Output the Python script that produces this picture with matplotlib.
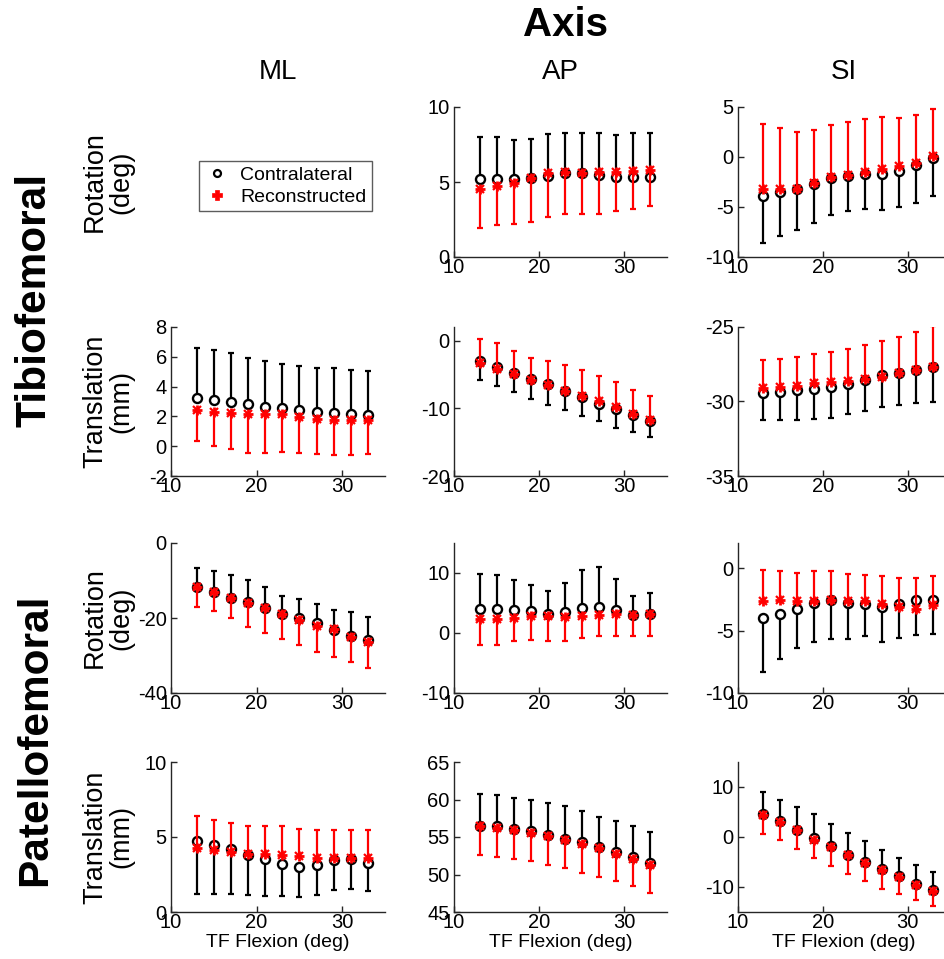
import matplotlib
matplotlib.use("Agg")
import matplotlib.pyplot as plt
from matplotlib.lines import Line2D

plt.rcParams['font.family'] = ['Liberation Sans', 'DejaVu Sans']
plt.rcParams['axes.unicode_minus'] = False

# ---------------- data ----------------
flexion = [13, 15, 17, 19, 21, 23, 25, 27, 29, 31, 33]

# Tibiofemoral rotation AP
tf_rot_ap_con = [5.22, 5.22, 5.18, 5.27, 5.40, 5.62, 5.62, 5.44, 5.33, 5.33, 5.33]
tf_rot_ap_con_end = [8.00, 8.00, 7.78, 7.89, 8.20, 8.27, 8.27, 8.24, 8.16, 8.29, 8.24]
tf_rot_ap_rec = [4.51, 4.71, 4.93, 5.29, 5.60, 5.69, 5.60, 5.67, 5.67, 5.73, 5.78]
tf_rot_ap_rec_end = [1.93, 2.11, 2.22, 2.33, 2.67, 2.84, 2.84, 2.89, 3.07, 3.22, 3.38]

# Tibiofemoral rotation SI
tf_rot_si_con = [-3.93, -3.53, -3.19, -2.65, -2.11, -1.91, -1.74, -1.74, -1.44, -0.83, -0.06]
tf_rot_si_con_end = [-8.55, -7.88, -7.30, -6.56, -5.82, -5.35, -5.18, -5.25, -5.04, -4.60, -3.87]
tf_rot_si_rec = [-3.19, -3.19, -3.16, -2.58, -2.04, -1.84, -1.50, -1.17, -0.90, -0.56, 0.10]
tf_rot_si_rec_end = [3.28, 2.88, 2.47, 2.74, 3.18, 3.52, 3.79, 3.96, 3.92, 4.16, 4.76]

# Tibiofemoral translation ML
tf_tr_ml_con = [3.26, 3.12, 2.97, 2.85, 2.63, 2.56, 2.41, 2.27, 2.23, 2.14, 2.07]
tf_tr_ml_con_end = [6.59, 6.48, 6.26, 5.94, 5.72, 5.50, 5.36, 5.27, 5.25, 5.14, 5.02]
tf_tr_ml_rec = [2.45, 2.30, 2.23, 2.18, 2.18, 2.14, 1.96, 1.85, 1.78, 1.74, 1.78]
tf_tr_ml_rec_end = [0.33, 0.01, -0.21, -0.43, -0.43, -0.41, -0.46, -0.55, -0.61, -0.61, -0.55]

# Tibiofemoral translation AP
tf_tr_ap_con = [-3.04, -3.92, -4.75, -5.64, -6.42, -7.45, -8.33, -9.31, -10.14, -11.03, -11.91]
tf_tr_ap_con_end = [-5.88, -6.76, -7.64, -8.58, -9.46, -10.19, -11.17, -11.91, -12.84, -13.48, -14.21]
tf_tr_ap_rec = [-3.33, -4.17, -5.00, -5.88, -6.57, -7.45, -8.23, -8.97, -9.80, -10.78, -11.66]
tf_tr_ap_rec_end = [0.25, -0.39, -1.47, -2.55, -3.09, -3.58, -4.41, -5.29, -6.17, -7.25, -8.23]

# Tibiofemoral translation SI
tf_tr_si_con = [-29.46, -29.37, -29.26, -29.15, -29.04, -28.82, -28.53, -28.21, -28.06, -27.88, -27.68]
tf_tr_si_con_end = [-31.27, -31.27, -31.27, -31.16, -31.09, -30.87, -30.62, -30.40, -30.25, -30.09, -30.02]
tf_tr_si_rec = [-29.08, -29.04, -28.93, -28.73, -28.68, -28.62, -28.46, -28.35, -28.06, -27.86, -27.68]
tf_tr_si_rec_end = [-27.19, -27.14, -27.03, -26.81, -26.65, -26.49, -26.23, -25.96, -25.67, -25.31, -24.96]

# Patellofemoral rotation ML
pf_rot_ml_con = [-11.86, -13.19, -14.60, -15.66, -17.43, -19.03, -20.09, -21.24, -23.19, -24.78, -25.93]
pf_rot_ml_con_end = [-6.64, -7.43, -8.41, -9.91, -11.68, -14.07, -15.05, -16.19, -17.88, -18.50, -19.65]
pf_rot_ml_rec = [-11.86, -13.01, -14.60, -16.11, -17.43, -19.03, -20.53, -22.04, -23.01, -24.96, -26.28]
pf_rot_ml_rec_end = [-16.99, -18.05, -19.91, -22.48, -24.07, -25.67, -27.17, -28.94, -30.53, -31.86, -33.28]

# Patellofemoral rotation AP
pf_rot_ap_con = [3.98, 3.98, 3.87, 3.59, 3.20, 3.48, 4.14, 4.31, 3.76, 3.04, 3.20]
pf_rot_ap_con_end = [9.83, 9.67, 8.90, 8.01, 6.96, 8.40, 10.50, 10.94, 8.99, 6.24, 6.69]
pf_rot_ap_rec = [2.38, 2.38, 2.54, 2.76, 2.76, 2.65, 2.82, 2.93, 3.09, 2.93, 3.09]
pf_rot_ap_rec_end = [-2.04, -2.04, -1.38, -1.22, -1.38, -1.38, -0.83, -0.55, -0.44, -0.55, -0.55]

# Patellofemoral rotation SI
pf_rot_si_con = [-4.00, -3.65, -3.31, -2.80, -2.59, -2.80, -2.86, -3.12, -2.86, -2.57, -2.54]
pf_rot_si_con_end = [-8.28, -7.28, -6.43, -5.90, -5.69, -5.64, -5.45, -5.90, -5.58, -5.37, -5.24]
pf_rot_si_rec = [-2.65, -2.57, -2.65, -2.65, -2.54, -2.65, -2.67, -2.91, -3.12, -3.25, -2.99]
pf_rot_si_rec_end = [-0.13, -0.21, -0.40, -0.26, -0.21, -0.48, -0.53, -0.66, -0.82, -0.82, -0.61]

# Patellofemoral translation ML
pf_tr_ml_con = [4.71, 4.44, 4.18, 3.82, 3.56, 3.18, 3.00, 3.16, 3.44, 3.51, 3.29]
pf_tr_ml_con_end = [1.18, 1.18, 1.18, 1.11, 1.07, 1.07, 1.00, 1.11, 1.44, 1.56, 1.40]
pf_tr_ml_rec = [4.29, 4.11, 4.00, 3.89, 3.84, 3.82, 3.71, 3.62, 3.62, 3.62, 3.62]
pf_tr_ml_rec_end = [6.38, 6.11, 5.96, 5.73, 5.73, 5.71, 5.51, 5.44, 5.44, 5.44, 5.44]

# Patellofemoral translation AP
pf_tr_ap_con = [56.51, 56.42, 56.11, 55.76, 55.31, 54.73, 54.33, 53.67, 53.00, 52.29, 51.53]
pf_tr_ap_con_end = [60.69, 60.56, 60.24, 59.89, 59.58, 59.09, 58.47, 57.67, 57.09, 56.42, 55.67]
pf_tr_ap_rec = [56.42, 56.24, 55.98, 55.53, 55.13, 54.64, 54.11, 53.53, 52.78, 52.11, 51.31]
pf_tr_ap_rec_end = [52.56, 52.33, 52.11, 51.80, 51.22, 50.87, 50.24, 49.67, 49.09, 48.42, 47.58]

# Patellofemoral translation SI
pf_tr_si_con = [4.67, 3.13, 1.47, -0.20, -1.73, -3.53, -5.07, -6.40, -7.87, -9.33, -10.53]
pf_tr_si_con_end = [9.07, 7.47, 5.93, 4.53, 2.60, 0.73, -0.87, -2.53, -4.13, -5.60, -7.00]
pf_tr_si_rec = [4.47, 2.93, 1.33, -0.53, -2.07, -3.67, -5.20, -6.53, -8.00, -9.53, -10.73]
pf_tr_si_rec_end = [0.60, -0.67, -2.40, -4.20, -5.73, -7.33, -8.87, -10.33, -11.40, -12.67, -13.73]

column_titles = ["ML", "AP", "SI"]
row_labels = ["Rotation\n(deg)", "Translation\n(mm)", "Rotation\n(deg)", "Translation\n(mm)"]
group_labels = ["Tibiofemoral", "Patellofemoral"]
series_labels = ["Contralateral", "Reconstructed"]
x_label = "TF Flexion (deg)"
x_ticks = [10, 20, 30]

# (row, col) -> data and axis setup
panels = {
    (0, 1): (tf_rot_ap_con, tf_rot_ap_con_end, tf_rot_ap_rec, tf_rot_ap_rec_end, (0, 10), [0, 5, 10]),
    (0, 2): (tf_rot_si_con, tf_rot_si_con_end, tf_rot_si_rec, tf_rot_si_rec_end, (-10, 5), [-10, -5, 0, 5]),
    (1, 0): (tf_tr_ml_con, tf_tr_ml_con_end, tf_tr_ml_rec, tf_tr_ml_rec_end, (-2, 8), [-2, 0, 2, 4, 6, 8]),
    (1, 1): (tf_tr_ap_con, tf_tr_ap_con_end, tf_tr_ap_rec, tf_tr_ap_rec_end, (-20, 2), [-20, -10, 0]),
    (1, 2): (tf_tr_si_con, tf_tr_si_con_end, tf_tr_si_rec, tf_tr_si_rec_end, (-35, -25), [-35, -30, -25]),
    (2, 0): (pf_rot_ml_con, pf_rot_ml_con_end, pf_rot_ml_rec, pf_rot_ml_rec_end, (-40, 0), [-40, -20, 0]),
    (2, 1): (pf_rot_ap_con, pf_rot_ap_con_end, pf_rot_ap_rec, pf_rot_ap_rec_end, (-10, 15), [-10, 0, 10]),
    (2, 2): (pf_rot_si_con, pf_rot_si_con_end, pf_rot_si_rec, pf_rot_si_rec_end, (-10, 2), [-10, -5, 0]),
    (3, 0): (pf_tr_ml_con, pf_tr_ml_con_end, pf_tr_ml_rec, pf_tr_ml_rec_end, (0, 10), [0, 5, 10]),
    (3, 1): (pf_tr_ap_con, pf_tr_ap_con_end, pf_tr_ap_rec, pf_tr_ap_rec_end, (45, 65), [45, 50, 55, 60, 65]),
    (3, 2): (pf_tr_si_con, pf_tr_si_con_end, pf_tr_si_rec, pf_tr_si_rec_end, (-15, 15), [-10, 0, 10]),
}

# ---------------- figure ----------------
W, H = 944, 959
fig = plt.figure(figsize=(W / 100, H / 100), dpi=100)

col_left = [171, 454, 738]
col_width = [214, 213, 212]
row_top = [107, 327, 543, 762]
row_height = [150, 149, 150, 150]

BLACK = "#000000"
RED = "#FF0000"


def draw_bars(ax, mean, end, color, z):
    ax.vlines(flexion, mean, end, colors=color, lw=1.6, zorder=z)
    ax.plot(flexion, end, ls="none", marker="_", ms=4.5, mew=1.6, color=color, zorder=z)


def draw_asterisk(ax, xs, ys, z, size=7.5):
    ax.plot(xs, ys, ls="none", marker="+", ms=size, mew=2.0, color=RED, zorder=z)
    ax.plot(xs, ys, ls="none", marker="x", ms=size * 0.7, mew=1.6, color=RED, zorder=z)
    ax.plot(xs, ys, ls="none", marker="o", ms=size * 0.45, mew=0, color=RED, zorder=z)


for (r, c), (con, con_end, rec, rec_end, ylim, yticks) in panels.items():
    left = col_left[c] / W
    bottom = 1 - (row_top[r] + row_height[r]) / H
    ax = fig.add_axes([left, bottom, col_width[c] / W, row_height[r] / H])
    draw_bars(ax, con, con_end, BLACK, 2)
    ax.plot(flexion, con, ls="none", marker="o", ms=6.5, mfc="white", mew=1.7,
            mec=BLACK, zorder=2.5)
    draw_bars(ax, rec, rec_end, RED, 3)
    draw_asterisk(ax, flexion, rec, 3.5)
    ax.set_xlim(10, 35)
    ax.set_ylim(*ylim)
    ax.set_xticks(x_ticks)
    ax.set_yticks(yticks)
    for s in ("top", "right"):
        ax.spines[s].set_visible(False)
    for s in ("left", "bottom"):
        ax.spines[s].set_linewidth(1.0)
        ax.spines[s].set_color("#262626")
    ax.tick_params(direction="in", length=4, width=1.0, labelsize=14.5, colors="#262626",
                   labelcolor="black")
    ax.tick_params(axis="x", pad=1)
    ax.tick_params(axis="y", pad=3)
    if r == 3:
        ax.set_xlabel(x_label, fontsize=14, labelpad=1)

# legend in the empty top-left cell
handles = [
    Line2D([], [], ls="none", marker="o", ms=5, mfc="white", mec=BLACK, mew=1.6),
    Line2D([], [], ls="none", marker="P", ms=7, mfc=RED, mec=RED, mew=0.5),
]
leg = fig.legend(handles, series_labels, loc="center",
                 bbox_to_anchor=(285.5 / W, 1 - 186 / H),
                 fontsize=14, frameon=True, fancybox=False, handlelength=1.2,
                 handletextpad=0.6, labelspacing=0.2, borderpad=0.3,
                 borderaxespad=0)
leg.get_frame().set_edgecolor("#333333")
leg.get_frame().set_linewidth(1.0)

# titles and labels
fig.text(565 / W, 1 - 25 / H, "Axis", fontsize=29, fontweight="bold", ha="center", va="center")
for c, t in enumerate(column_titles):
    cx = (col_left[c] + col_width[c] / 2) / W
    fig.text(cx, 1 - 72 / H, t, fontsize=20, ha="center", va="center")
for r, t in enumerate(row_labels):
    cy = 1 - (row_top[r] + row_height[r] / 2) / H
    fig.text(108 / W, cy, t, fontsize=19.5, rotation=90, ha="center", va="center",
             multialignment="center", linespacing=1.0)
fig.text(35 / W, 1 - 300 / H, group_labels[0], fontsize=30.5, fontweight="bold",
         rotation=90, ha="center", va="center")
fig.text(35 / W, 1 - 740 / H, group_labels[1], fontsize=30.5, fontweight="bold",
         rotation=90, ha="center", va="center")

fig.savefig("out.png", dpi=100)
